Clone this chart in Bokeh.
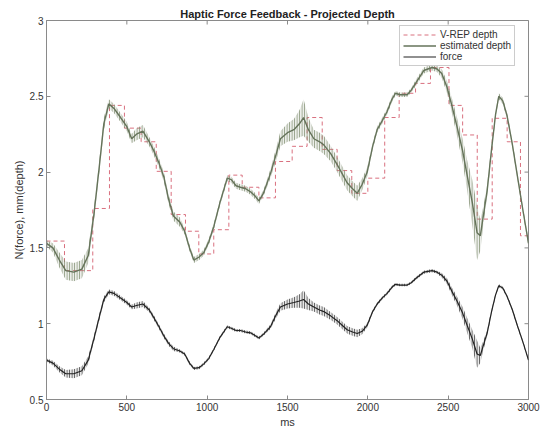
import numpy as np
from bokeh.plotting import figure
from bokeh.models import FixedTicker, NumeralTickFormatter, Range1d, Legend, LegendItem
from bokeh.embed import file_html
from bokeh.resources import INLINE

# V-REP depth (sample-and-hold): start time of each held sample and its value
vrep_t = [0, 112, 288, 392, 485, 589, 683, 776, 865, 948, 1041, 1135, 1218, 1322,
          1425, 1529, 1622, 1716, 1809, 1900, 2000, 2105, 2195, 2297, 2390, 2505,
          2590, 2681, 2774, 2867, 2950, 3000]
vrep_depth = [1.545, 1.35, 1.76, 2.44, 2.29, 2.20, 2.005, 1.72, 1.61, 1.46, 1.62,
              1.98, 1.90, 1.83, 2.07, 2.17, 2.36, 2.15, 2.01, 1.86, 1.96, 2.36, 2.52,
              2.585, 2.69, 2.44, 2.245, 1.69, 2.355, 2.20, 1.58, 1.58]

# Time base for the estimated depth and force traces (ms)
time_ms = [0, 40, 80, 120, 170, 220, 260, 295, 330, 357, 388, 420, 461, 500, 530,
           560, 600, 640, 668, 700, 730, 760, 790, 830, 860, 890, 917, 950, 979,
           1010, 1041, 1080, 1125, 1150, 1180, 1207, 1240, 1270, 1300, 1322, 1350,
           1394, 1430, 1456, 1500, 1540, 1575, 1600, 1630, 1664, 1700, 1726, 1770,
           1809, 1840, 1871, 1905, 1934, 1965, 1996, 2030, 2058, 2090, 2120, 2150,
           2172, 2200, 2245, 2270, 2300, 2348, 2400, 2431, 2460, 2493, 2525, 2555,
           2590, 2618, 2650, 2680, 2700, 2720, 2743, 2770, 2795, 2815, 2840, 2867,
           2900, 2930, 2965, 3000]

# Estimated depth: mean level and half-width of the haptic vibration
est_depth = [1.53, 1.50, 1.42, 1.35, 1.34, 1.36, 1.45, 1.72, 2.05, 2.32, 2.45, 2.42,
             2.36, 2.30, 2.22, 2.25, 2.27, 2.20, 2.14, 2.06, 1.97, 1.82, 1.71, 1.67,
             1.61, 1.50, 1.42, 1.44, 1.47, 1.54, 1.64, 1.80, 1.96, 1.95, 1.91, 1.90,
             1.89, 1.87, 1.84, 1.81, 1.86, 1.99, 2.12, 2.22, 2.26, 2.28, 2.32, 2.36,
             2.28, 2.22, 2.20, 2.18, 2.12, 2.05, 1.99, 1.93, 1.89, 1.86, 1.92, 2.00,
             2.17, 2.28, 2.34, 2.40, 2.48, 2.52, 2.51, 2.51, 2.54, 2.59, 2.67, 2.69,
             2.68, 2.65, 2.56, 2.43, 2.30, 2.14, 1.98, 1.80, 1.60, 1.58, 1.72, 1.88,
             2.15, 2.38, 2.50, 2.47, 2.37, 2.18, 1.98, 1.75, 1.53]
est_ripple = [0.02, 0.03, 0.05, 0.06, 0.06, 0.06, 0.05, 0.04, 0.04, 0.04, 0.03, 0.03,
              0.03, 0.03, 0.03, 0.04, 0.04, 0.03, 0.03, 0.03, 0.03, 0.03, 0.03, 0.03,
              0.02, 0.02, 0.02, 0.02, 0.02, 0.02, 0.02, 0.02, 0.02, 0.02, 0.02, 0.02,
              0.02, 0.02, 0.02, 0.02, 0.02, 0.03, 0.04, 0.05, 0.06, 0.07, 0.09, 0.12,
              0.08, 0.06, 0.06, 0.06, 0.05, 0.05, 0.05, 0.05, 0.05, 0.05, 0.04, 0.03,
              0.02, 0.02, 0.02, 0.02, 0.02, 0.015, 0.015, 0.015, 0.015, 0.02, 0.02,
              0.02, 0.02, 0.03, 0.04, 0.05, 0.06, 0.08, 0.10, 0.15, 0.18, 0.10, 0.06,
              0.04, 0.03, 0.02, 0.02, 0.02, 0.02, 0.02, 0.02, 0.02, 0.02]

# Force: mean level and half-width of the vibration
force = [0.76, 0.74, 0.70, 0.67, 0.67, 0.69, 0.76, 0.90, 1.05, 1.16, 1.21, 1.20,
         1.17, 1.14, 1.11, 1.12, 1.13, 1.09, 1.04, 0.98, 0.92, 0.87, 0.835, 0.82,
         0.80, 0.74, 0.705, 0.71, 0.735, 0.77, 0.83, 0.91, 0.98, 0.97, 0.955, 0.955,
         0.945, 0.94, 0.92, 0.905, 0.93, 0.98, 1.06, 1.11, 1.13, 1.14, 1.15, 1.16,
         1.13, 1.11, 1.09, 1.08, 1.05, 1.02, 0.99, 0.96, 0.945, 0.935, 0.95, 0.99,
         1.08, 1.13, 1.17, 1.20, 1.24, 1.26, 1.255, 1.255, 1.27, 1.30, 1.34, 1.35,
         1.34, 1.32, 1.28, 1.21, 1.15, 1.07, 0.99, 0.90, 0.80, 0.79, 0.86, 0.94,
         1.08, 1.19, 1.25, 1.235, 1.18, 1.09, 0.99, 0.88, 0.76]
force_ripple = [0.01, 0.015, 0.02, 0.025, 0.03, 0.03, 0.025, 0.02, 0.02, 0.02, 0.015,
                0.015, 0.015, 0.015, 0.015, 0.02, 0.02, 0.015, 0.015, 0.015, 0.015,
                0.015, 0.015, 0.01, 0.01, 0.01, 0.01, 0.01, 0.01, 0.01, 0.01, 0.01,
                0.01, 0.01, 0.01, 0.01, 0.01, 0.01, 0.01, 0.01, 0.01, 0.015, 0.02,
                0.025, 0.03, 0.035, 0.045, 0.06, 0.04, 0.03, 0.03, 0.03, 0.025, 0.025,
                0.025, 0.025, 0.025, 0.025, 0.02, 0.015, 0.01, 0.01, 0.01, 0.01, 0.01,
                0.008, 0.008, 0.008, 0.008, 0.01, 0.01, 0.01, 0.01, 0.015, 0.02, 0.025,
                0.03, 0.04, 0.05, 0.06, 0.09, 0.05, 0.03, 0.02, 0.015, 0.01, 0.01,
                0.01, 0.01, 0.01, 0.01, 0.01, 0.01]

x_ticks = [0, 500, 1000, 1500, 2000, 2500, 3000]
y_ticks = [0.5, 1, 1.5, 2, 2.5, 3]
X_MIN, X_MAX = 0, 3000
Y_MIN, Y_MAX = 0.5, 3

FONT = "Liberation Sans"
FRAME = "#8a8a8a"
TEXT = "#333333"
EST_BAND = "#7f8d70"
EST_LINE = "#65735a"
FORCE_COLOR = "#222222"
VREP_COLOR = "#d9707f"

p = figure(width=540, height=430, output_backend="svg", toolbar_location=None,
           x_range=Range1d(X_MIN, X_MAX), y_range=Range1d(Y_MIN, Y_MAX),
           min_border_left=46, min_border_right=12, min_border_top=20,
           min_border_bottom=29, x_axis_label="ms",
           y_axis_label="N(force), mm(depth)")
p.grid.visible = False
p.outline_line_color = FRAME
p.background_fill_color = "white"
p.border_fill_color = "white"

p.title.text = "Haptic Force Feedback - Projected Depth"
p.title.align = "center"
p.title.text_font = FONT
p.title.text_font_style = "bold"
p.title.text_font_size = "11px"
p.title.text_color = "#222222"
p.title.standoff = 2

for ax in (p.xaxis[0], p.yaxis[0]):
    ax.axis_line_color = FRAME
    ax.major_tick_line_color = FRAME
    ax.major_tick_in = 4
    ax.major_tick_out = 0
    ax.minor_tick_line_color = None
    ax.major_label_text_font = FONT
    ax.major_label_text_font_size = "10px"
    ax.major_label_text_color = TEXT
    ax.axis_label_text_font = FONT
    ax.axis_label_text_font_size = "11px"
    ax.axis_label_text_font_style = "normal"
    ax.axis_label_text_color = TEXT
    ax.major_label_standoff = 3
    ax.axis_label_standoff = 2

p.xaxis[0].ticker = FixedTicker(ticks=x_ticks)
p.yaxis[0].ticker = FixedTicker(ticks=y_ticks)
p.yaxis[0].formatter = NumeralTickFormatter(format="0.[0]")

# Inward tick marks on the top and right edges of the box: short dashes centred
# on the edge, the outer half is clipped away by the frame
p.scatter(x=x_ticks, y=[Y_MAX] * len(x_ticks), marker="dash", size=8,
          angle=np.pi / 2, line_color=FRAME, line_width=1)
p.scatter(x=[X_MAX] * len(y_ticks), y=y_ticks, marker="dash", size=8,
          line_color=FRAME, line_width=1)

# V-REP depth as a dashed staircase
r_vrep = p.step(vrep_t, vrep_depth, mode="after", line_color=VREP_COLOR,
                line_width=1, line_dash="4 3")

t = np.array(time_ms, dtype=float)
est = np.array(est_depth)
est_r = np.array(est_ripple)
frc = np.array(force)
frc_r = np.array(force_ripple)

# Vibration bands drawn as dense vertical strokes
p.varea(x=t, y1=est - est_r, y2=est + est_r, fill_color=EST_BAND, fill_alpha=0.15,
        hatch_pattern="vertical_line", hatch_color=EST_BAND, hatch_scale=2.5,
        hatch_weight=1, hatch_alpha=0.9)
r_est = p.line(t, est, line_color=EST_LINE, line_width=1.4)

p.varea(x=t, y1=frc - frc_r, y2=frc + frc_r, fill_color=FORCE_COLOR, fill_alpha=0.1,
        hatch_pattern="vertical_line", hatch_color=FORCE_COLOR, hatch_scale=2.5,
        hatch_weight=1, hatch_alpha=0.8)
r_force = p.line(t, frc, line_color=FORCE_COLOR, line_width=1.2)

legend = Legend(items=[LegendItem(label="V-REP depth", renderers=[r_vrep]),
                       LegendItem(label="estimated depth", renderers=[r_est]),
                       LegendItem(label="force", renderers=[r_force])],
                location=(353, 333), label_text_font=FONT,
                label_text_font_size="10px", label_text_color=TEXT,
                glyph_width=33, glyph_height=11, label_height=11, spacing=0,
                padding=3, label_standoff=4, margin=0,
                border_line_color="#999999", background_fill_alpha=1)
p.add_layout(legend)

open("out.html", "w").write(file_html(p, INLINE))
